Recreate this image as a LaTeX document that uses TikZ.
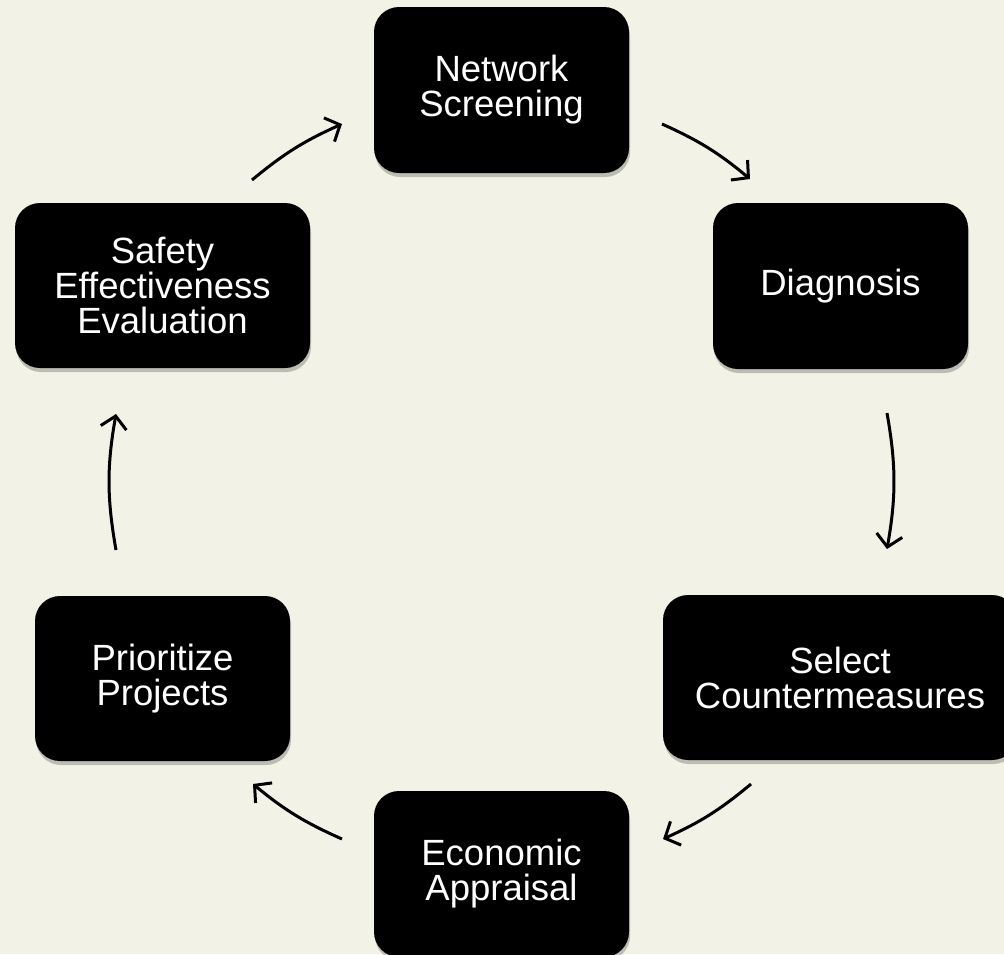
\documentclass[tikz,border=0pt]{standalone}
\usepackage{fontspec}
\setmainfont{Liberation Sans}
\usetikzlibrary{arrows.meta,shadows}
\definecolor{bgcream}{RGB}{243,242,230}
\tikzset{
  stagebox/.style={fill=black, rounded corners=25pt, text=white, align=center,
    inner sep=0pt, minimum height=166pt,
    font=\fontsize{36.5}{35}\selectfont,
    drop shadow={shadow xshift=1pt, shadow yshift=-4pt, fill=black, opacity=0.22}},
  cyclearrow/.style={line width=3pt, -{Straight Barb[length=12pt,width=26pt]}, bend left=7.8},
}
\begin{document}
\begin{tikzpicture}[x=1pt,y=-1pt]
\fill[bgcream] (0,0) rectangle (1004,954);
\useasboundingbox (0,0) rectangle (1004,954);
\clip (0,0) rectangle (1004,954);

\node[stagebox, minimum width=255pt] (ns) at (501.5,90) {Network\\Screening};
\node[stagebox, minimum width=255pt] (dg) at (840.5,286) {Diagnosis};
\node[stagebox, minimum width=354pt, minimum height=165pt] (sc) at (840,677.5) {Select\\Countermeasures};
\node[stagebox, minimum width=255pt] (ea) at (501.5,874) {Economic\\Appraisal};
\node[stagebox, minimum width=255pt, minimum height=165pt] (pp) at (162.5,678.5) {Prioritize\\Projects};
\node[stagebox, minimum width=295pt, minimum height=165pt] (se) at (162.5,285.5) {Safety\\Effectiveness\\Evaluation};

\coordinate (s1) at (252,180);  \coordinate (e1) at (342,124);
\coordinate (s2) at (662,124);  \coordinate (e2) at (750,179);
\coordinate (s3) at (887,413);  \coordinate (e3) at (887,549);
\coordinate (s4) at (751,784);  \coordinate (e4) at (663,839);
\coordinate (s5) at (342,839);  \coordinate (e5) at (253,784);
\coordinate (s6) at (116,550);  \coordinate (e6) at (116,414);

\draw[cyclearrow] (s1) to (e1);
\draw[cyclearrow] (s2) to (e2);
\draw[cyclearrow, bend left=10] (s3) to (e3);
\draw[cyclearrow] (s4) to (e4);
\draw[cyclearrow] (s5) to (e5);
\draw[cyclearrow, bend left=10] (s6) to (e6);
\end{tikzpicture}
\end{document}
